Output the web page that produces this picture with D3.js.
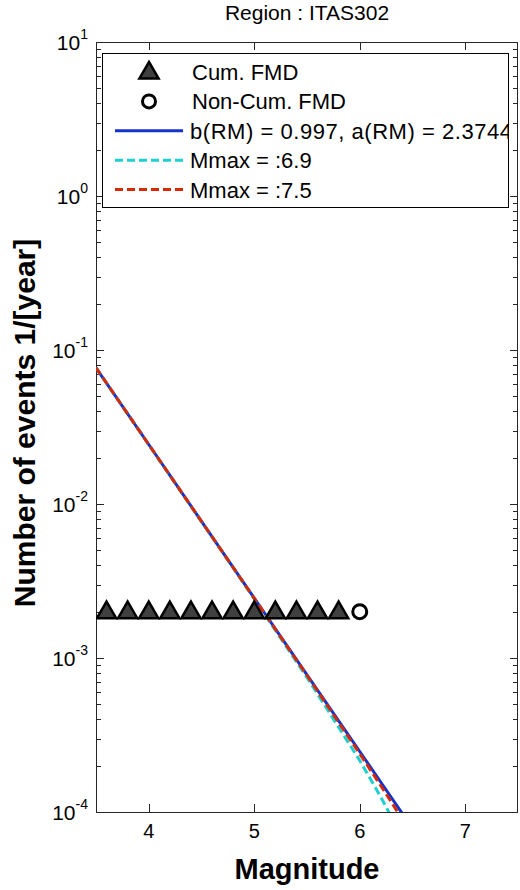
<!DOCTYPE html>
<html>
<head>
<meta charset="utf-8">
<script src="https://cdn.jsdelivr.net/npm/d3@7"></script>
<style>
  body { margin: 0; background: #fff; }
  text { font-family: "Liberation Sans", Arial, sans-serif; fill: #000; }
</style>
</head>
<body>
<div id="viz"></div>
<script>
// observed FMD points (rate per year)
const cumMag = [3.6, 3.8, 4.0, 4.2, 4.4, 4.6, 4.8, 5.0, 5.2, 5.4, 5.6, 5.8];
const cumRate = [0.002, 0.002, 0.002, 0.002, 0.002, 0.002, 0.002, 0.002, 0.002, 0.002, 0.002, 0.002];
const nonCumMag = [6.0];
const nonCumRate = [0.002];

// fitted lines
const rmMag = [3.5, 4.0, 4.5, 5.0, 5.5, 6.0, 6.2, 6.4];
const rmRate = [0.0767, 0.02434, 0.00772, 0.002451, 0.000778, 0.000247, 0.000156, 0.0000985];
const mmax69Mag = [3.5, 4.0, 4.5, 5.0, 5.5, 6.0, 6.2, 6.3];
const mmax69Rate = [0.0767, 0.02431, 0.00769, 0.00242, 0.000747, 0.000216, 0.000125, 0.0000928];
const mmax75Mag = [3.5, 4.0, 4.5, 5.0, 5.5, 6.0, 6.2, 6.4];
const mmax75Rate = [0.0767, 0.02433, 0.00771, 0.00244, 0.00077, 0.000239, 0.000148, 0.0000906];

const xTicks = [4, 5, 6, 7];
const yExponents = [-4, -3, -2, -1, 0, 1];
const legendLabels = ['Cum. FMD', 'Non-Cum. FMD', 'b(RM) = 0.997, a(RM) = 2.3744', 'Mmax = :6.9', 'Mmax = :7.5'];

const W = 520, H = 890;
const pLeft = 96, pRight = 518, pTop = 42, pBottom = 812;

const svg = d3.select('#viz')
  .append('svg')
  .attr('width', W)
  .attr('height', H);

const x = d3.scaleLinear().domain([3.5, 7.5]).range([pLeft, pRight]);
const y = d3.scaleLog().domain([1e-4, 1e1]).range([pBottom, pTop]);

// clip for the data
svg.append('clipPath').attr('id', 'plotclip')
  .append('rect')
  .attr('x', pLeft).attr('y', pTop)
  .attr('width', pRight - pLeft).attr('height', pBottom - pTop);

// ticks: major + minor on left/right, major on top/bottom (inside)
const axisColor = '#262626';
const minor = [];
for (let e = -4; e < 1; e++) {
  for (let k = 2; k <= 9; k++) minor.push(k * Math.pow(10, e));
}
const major = yExponents.map(e => Math.pow(10, e));

const tickG = svg.append('g').attr('stroke', axisColor).attr('stroke-width', 1);
major.forEach(v => {
  const yy = Math.round(y(v)) + 0.5;
  tickG.append('line').attr('x1', pLeft).attr('x2', pLeft + 8).attr('y1', yy).attr('y2', yy);
  tickG.append('line').attr('x1', pRight - 8).attr('x2', pRight).attr('y1', yy).attr('y2', yy);
});
minor.forEach(v => {
  const yy = Math.round(y(v)) + 0.5;
  tickG.append('line').attr('x1', pLeft).attr('x2', pLeft + 5).attr('y1', yy).attr('y2', yy);
  tickG.append('line').attr('x1', pRight - 5).attr('x2', pRight).attr('y1', yy).attr('y2', yy);
});
xTicks.forEach(v => {
  const xx = Math.round(x(v)) + 0.5;
  tickG.append('line').attr('x1', xx).attr('x2', xx).attr('y1', pBottom).attr('y2', pBottom - 8);
  tickG.append('line').attr('x1', xx).attr('x2', xx).attr('y1', pTop).attr('y2', pTop + 8);
});

// box
svg.append('rect')
  .attr('x', pLeft + 0.5).attr('y', pTop + 0.5)
  .attr('width', pRight - pLeft - 1).attr('height', pBottom - pTop)
  .attr('fill', 'none')
  .attr('stroke', axisColor)
  .attr('stroke-width', 1);

// tick labels
svg.selectAll('.xlab')
  .data(xTicks)
  .enter()
  .append('text')
  .attr('x', d => x(d))
  .attr('y', pBottom + 26)
  .attr('text-anchor', 'middle')
  .attr('font-size', 20)
  .text(d => d);

const ylab = svg.selectAll('.ylab')
  .data(yExponents)
  .enter()
  .append('text')
  .attr('x', 88)
  .attr('y', d => y(Math.pow(10, d)) + 8)
  .attr('text-anchor', 'end')
  .attr('font-size', 21);
ylab.append('tspan').text('10');
ylab.append('tspan').attr('dy', -11).attr('font-size', 14).text(d => d);

// axis titles
svg.append('text')
  .attr('x', (pLeft + pRight) / 2)
  .attr('y', 879)
  .attr('text-anchor', 'middle')
  .attr('font-size', 29)
  .attr('font-weight', 'bold')
  .text('Magnitude');

svg.append('text')
  .attr('transform', `translate(35, ${(pTop + pBottom) / 2 - 4}) rotate(-90)`)
  .attr('text-anchor', 'middle')
  .attr('font-size', 30)
  .attr('font-weight', 'bold')
  .text('Number of events 1/[year]');

svg.append('text')
  .attr('x', (pLeft + pRight) / 2)
  .attr('y', 20)
  .attr('text-anchor', 'middle')
  .attr('font-size', 21)
  .text('Region : ITAS302');

// lines
const plot = svg.append('g').attr('clip-path', 'url(#plotclip)');
const line = d3.line()
  .x(d => x(d[0]))
  .y(d => y(d[1]));

const blue = '#1432cc', cyan = '#1ed0d0', red = '#d42a0a';

plot.append('path')
  .datum(d3.zip(rmMag, rmRate))
  .attr('d', line)
  .attr('stroke', blue)
  .attr('stroke-width', 3)
  .attr('fill', 'none');

plot.append('path')
  .datum(d3.zip(mmax69Mag, mmax69Rate))
  .attr('d', line)
  .attr('stroke', cyan)
  .attr('stroke-width', 3)
  .attr('stroke-dasharray', '8,4')
  .attr('fill', 'none');

plot.append('path')
  .datum(d3.zip(mmax75Mag, mmax75Rate))
  .attr('d', line)
  .attr('stroke', red)
  .attr('stroke-width', 3)
  .attr('stroke-dasharray', '8,4')
  .attr('fill', 'none');

// markers
const tri = d3.symbol().type(d3.symbolTriangle).size(160);
plot.selectAll('.cum')
  .data(d3.zip(cumMag, cumRate))
  .enter()
  .append('path')
  .attr('d', tri)
  .attr('transform', d => `translate(${x(d[0])}, ${y(d[1]) + 1})`)
  .attr('fill', '#404040')
  .attr('stroke', '#000')
  .attr('stroke-width', 2.5);

plot.selectAll('.noncum')
  .data(d3.zip(nonCumMag, nonCumRate))
  .enter()
  .append('circle')
  .attr('cx', d => x(d[0]))
  .attr('cy', d => y(d[1]))
  .attr('r', 7)
  .attr('fill', '#fff')
  .attr('stroke', '#000')
  .attr('stroke-width', 3);

// legend
const lx = 102, ly = 53, lw = 406, lh = 154;
svg.append('clipPath').attr('id', 'legclip')
  .append('rect')
  .attr('x', lx).attr('y', ly).attr('width', lw).attr('height', lh);

const leg = svg.append('g');
leg.append('rect')
  .attr('x', lx + 0.5).attr('y', ly + 0.5)
  .attr('width', lw).attr('height', lh)
  .attr('fill', '#fff')
  .attr('stroke', '#000')
  .attr('stroke-width', 1);

const rowY = i => 72 + i * 29.4;
const legItems = leg.append('g').attr('clip-path', 'url(#legclip)');

legItems.append('path')
  .attr('d', tri)
  .attr('transform', `translate(149, ${rowY(0) + 1})`)
  .attr('fill', '#404040')
  .attr('stroke', '#000')
  .attr('stroke-width', 2.5);

legItems.append('circle')
  .attr('cx', 149).attr('cy', rowY(1)).attr('r', 6.5)
  .attr('fill', '#fff').attr('stroke', '#000').attr('stroke-width', 3);

[[blue, null], [cyan, '8,4'], [red, '8,4']].forEach((s, i) => {
  legItems.append('line')
    .attr('x1', 115).attr('x2', 183)
    .attr('y1', rowY(i + 2)).attr('y2', rowY(i + 2))
    .attr('stroke', s[0])
    .attr('stroke-width', 3)
    .attr('stroke-dasharray', s[1]);
});

legItems.selectAll('.legtext')
  .data(legendLabels)
  .enter()
  .append('text')
  .attr('x', (d, i) => i < 2 ? 192 : 190)
  .attr('y', (d, i) => rowY(i) + 8)
  .attr('font-size', 22)
  .attr('textLength', (d, i) => i === 2 ? 322 : null)
  .text(d => d);
</script>
</body>
</html>
